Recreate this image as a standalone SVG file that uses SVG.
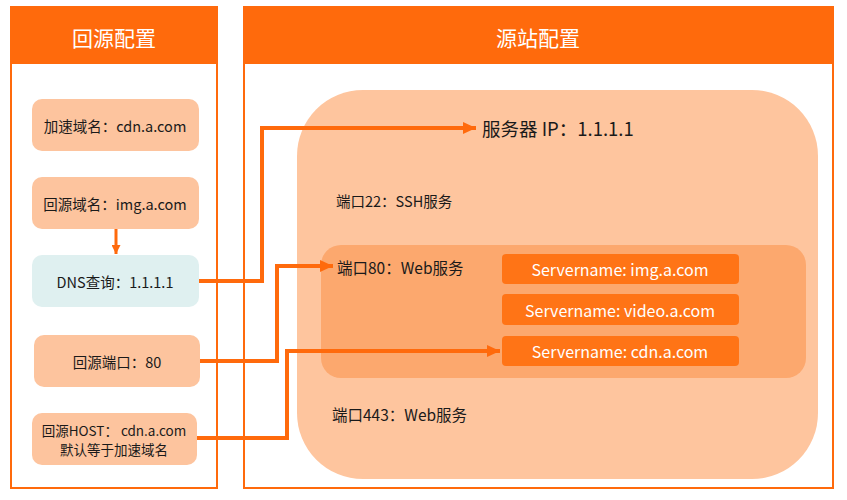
<svg xmlns="http://www.w3.org/2000/svg" width="847" height="500" viewBox="0 0 847 500">
  <defs>
    <style>
      .panel { fill: #ffffff; stroke: #ff6a0c; stroke-width: 2; }
      .head { fill: #ff6a0c; }
      .title { font-family: "Noto Sans CJK SC", "Noto Sans", sans-serif; font-size: 21px; fill: #ffffff; text-anchor: middle; dominant-baseline: central; }
      .box { fill: #fdc49e; }
      .dns { fill: #dff0f0; }
      .t { font-family: "Noto Sans CJK SC", "Noto Sans", sans-serif; font-size: 14.5px; fill: #1a1a1a; dominant-baseline: central; }
      .ts { font-family: "Noto Sans CJK SC", "Noto Sans", sans-serif; font-size: 13.5px; fill: #1a1a1a; dominant-baseline: central; text-anchor: middle; }
      .tc { text-anchor: middle; }
      .port { font-family: "Noto Sans CJK SC", "Noto Sans", sans-serif; font-size: 15.5px; fill: #1a1a1a; dominant-baseline: central; }
      .sv { fill: #ff7416; }
      .svt { font-family: "Noto Sans CJK SC", "Noto Sans", sans-serif; font-size: 16px; fill: #ffffff; text-anchor: middle; dominant-baseline: central; }
      .conn { fill: none; stroke: #ff6a0c; stroke-width: 4; stroke-linejoin: miter; }
      .thin { fill: none; stroke: #ff6a0c; stroke-width: 3; }
    </style>
    <marker id="ah" viewBox="0 0 13 12" refX="13" refY="6" markerWidth="13" markerHeight="12" markerUnits="userSpaceOnUse" orient="auto">
      <path d="M0,0 L13,6 L0,12 z" fill="#ff6a0c"/>
    </marker>
    <marker id="ahs" viewBox="0 0 9 9" refX="9" refY="4.5" markerWidth="9" markerHeight="9" markerUnits="userSpaceOnUse" orient="auto">
      <path d="M0,0 L9,4.5 L0,9 z" fill="#ff6a0c"/>
    </marker>
  </defs>

  <rect width="847" height="500" fill="#ffffff"/>

  <g id="panel-left">
    <rect class="panel" x="11" y="7" width="206" height="481"/>
    <rect class="head" x="11" y="7" width="206" height="57"/>
    <text class="title" x="114" y="37">回源配置</text>
  </g>

  <g id="panel-right">
    <rect class="panel" x="244" y="7" width="589" height="481"/>
    <rect class="head" x="244" y="7" width="589" height="57"/>
    <text class="title" x="538" y="37">源站配置</text>
  </g>

  <g id="server">
    <rect x="297" y="90" width="521" height="389" rx="66" ry="66" fill="#fec59e"/>
    <text x="482" y="128" font-family="'Noto Sans CJK SC', 'Noto Sans', sans-serif" font-size="18.5" fill="#1a1a1a" dominant-baseline="central">服务器 IP：1.1.1.1</text>
  </g>

  <g id="port22">
    <text class="t" x="336" y="200">端口22：SSH服务</text>
  </g>

  <g id="port80">
    <rect x="321" y="245" width="485" height="133" rx="20" ry="20" fill="#fca86e"/>
    <text class="port" x="337" y="267">端口80：Web服务</text>
  </g>

  <g id="sv-img">
    <rect class="sv" x="502" y="254" width="237" height="30" rx="4"/>
    <text class="svt" x="620" y="269">Servername: img.a.com</text>
  </g>
  <g id="sv-video">
    <rect class="sv" x="502" y="294" width="237" height="31" rx="4"/>
    <text class="svt" x="620" y="309.5">Servername: video.a.com</text>
  </g>
  <g id="sv-cdn">
    <rect class="sv" x="502" y="336" width="237" height="30" rx="4"/>
    <text class="svt" x="620" y="351">Servername: cdn.a.com</text>
  </g>

  <g id="port443">
    <text class="port" x="332" y="414">端口443：Web服务</text>
  </g>

  <g id="accel-domain">
    <rect class="box" x="32" y="99" width="167" height="52" rx="10"/>
    <text class="t tc" x="115" y="125">加速域名：cdn.a.com</text>
  </g>
  <g id="origin-domain">
    <rect class="box" x="32" y="177" width="167" height="52" rx="10"/>
    <text class="t tc" x="115" y="203">回源域名：img.a.com</text>
  </g>
  <g id="dns">
    <rect class="dns" x="32" y="255" width="167" height="52" rx="10"/>
    <text class="t tc" x="115" y="281">DNS查询：1.1.1.1</text>
  </g>
  <g id="origin-port">
    <rect class="box" x="34" y="335" width="166" height="52" rx="10"/>
    <text class="t tc" x="117" y="361">回源端口：80</text>
  </g>
  <g id="origin-host">
    <rect class="box" x="32" y="413" width="165" height="52" rx="10"/>
    <text class="ts" x="114" y="430">回源HOST： cdn.a.com</text>
    <text class="ts" x="114" y="449">默认等于加速域名</text>
  </g>

  <g id="connectors">
    <path class="thin" d="M116,229 L116,254" marker-end="url(#ahs)"/>
    <path class="conn" d="M199,281 L262,281 L262,128 L476,128" marker-end="url(#ah)"/>
    <path class="conn" d="M200,361 L277,361 L277,266 L333,266" marker-end="url(#ah)"/>
    <path class="conn" d="M197,438 L287,438 L287,351 L500,351" marker-end="url(#ah)"/>
  </g>
</svg>
